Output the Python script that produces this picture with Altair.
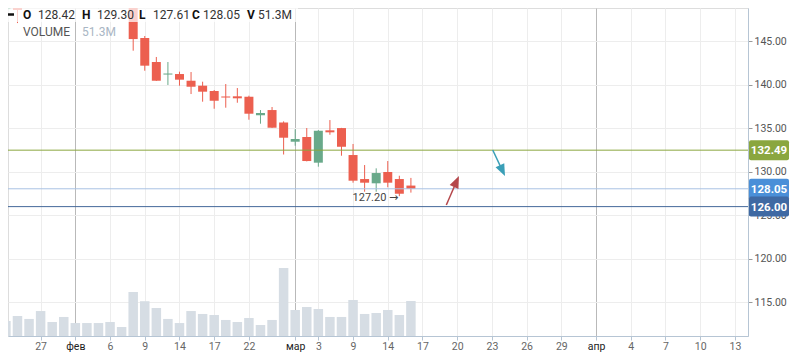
import altair as alt
import pandas as pd

# ---------------- data ----------------
idx = list(range(-3, 33))
opens = [148.7, 151.6, 149.2, 151.0, 152.0, 150.9, 151.4, 150.8, 149.1, 150.5, 151.2, 150.0,
         145.38, 142.62, 141.18, 141.24, 140.47, 139.90, 139.29, 138.66, 138.68, 138.63,
         136.49, 137.10, 135.67, 133.46, 134.00, 131.05, 134.77, 135.03, 131.93, 129.17,
         128.68, 129.98, 129.17, 128.42]
highs = [151.0, 152.0, 151.0, 152.5, 152.4, 151.8, 152.0, 151.2, 150.9, 151.5, 151.6, 150.6,
         145.61, 143.20, 142.62, 141.51, 141.47, 140.36, 139.40, 140.09, 139.63, 138.75,
         137.10, 137.45, 135.80, 134.89, 135.03, 134.80, 135.95, 135.05, 133.20, 130.78,
         130.40, 131.24, 129.55, 129.30]
lows = [148.3, 147.1, 148.9, 150.2, 150.5, 150.0, 150.3, 149.0, 148.8, 149.8, 149.3, 143.92,
        141.62, 140.45, 139.98, 139.90, 138.94, 138.06, 137.25, 137.37, 137.94, 135.99,
        135.53, 135.05, 131.99, 133.00, 131.20, 130.59, 134.26, 131.85, 128.75, 127.71,
        127.71, 128.22, 127.20, 127.61]
closes = [150.6, 148.6, 150.8, 151.8, 150.9, 151.4, 150.6, 149.4, 150.5, 151.2, 149.5, 145.26,
          142.20, 140.47, 141.30, 140.59, 139.78, 139.21, 138.17, 138.54, 138.45, 136.68,
          136.76, 135.07, 133.92, 133.77, 131.24, 134.72, 134.54, 132.88, 128.98, 128.75,
          129.86, 128.75, 127.48, 128.05]
volumes = [22.0, 29.3, 25.0, 36.6, 20.5, 27.9, 19.0, 19.0, 19.0, 20.5, 13.2, 64.5,
           51.0, 41.0, 25.0, 19.0, 36.6, 32.3, 30.8, 23.5, 20.5, 26.4,
           16.1, 23.5, 99.7, 38.1, 42.5, 39.6, 27.9, 27.9, 52.8, 32.3,
           33.7, 38.1, 30.8, 51.3]

tick_idx = [0, 3, 6, 9, 12, 15, 18, 22, 24, 27, 30, 33, 36, 39, 42, 45, 48, 51, 54, 57, 60]
tick_lbl = ["27", "фев", "6", "9", "14", "17", "22", "мар", "3", "9", "14", "17",
            "20", "23", "26", "29", "апр", "4", "7", "10", "13"]
month_idx = [3, 22, 48]

price_ticks = [115, 120, 125, 130, 135, 140, 145]
level_prices = [132.49, 128.05, 126.00]

arrow_ids = ["red", "red", "teal", "teal"]
arrow_x = [35.06, 35.94, 39.07, 39.91]
arrow_p = [126.18, 128.89, 132.51, 130.14]
head_ids = ["red", "teal"]
head_x = [35.94, 39.91]
head_p = [128.89, 130.14]
head_angle = [24, 155]

low_mark_idx = 31
low_mark_price = 127.20

header_last = {"O": "128.42", "H": "129.30", "L": "127.61", "C": "128.05", "V": "51.3M"}

# ---------------- styles ----------------
RED = "#ec5f4f"
GREEN = "#69a98a"
AX = "#b6c5d4"
level_line_colors = ["#8aa63f", "#a9c2e4", "#45699a"]
level_box_colors = ["#8aa63f", "#4a8fd8", "#3f69a3"]
arrow_color = {"red": "#b5474b", "teal": "#3a9fb7"}

# ---------------- tables ----------------
df = pd.DataFrame({"i": idx, "open": opens, "high": highs, "low": lows,
                   "close": closes, "vol": volumes})
df["col"] = [GREEN if c >= o else RED for o, c in zip(opens, closes)]
levels = pd.DataFrame({"price": level_prices,
                       "label": [f"{p:.2f}" for p in level_prices],
                       "lc": level_line_colors, "bc": level_box_colors})
arrows = pd.DataFrame({"a": arrow_ids, "i": arrow_x, "p": arrow_p})
arrows["ac"] = [arrow_color[a] for a in arrow_ids]
heads = pd.DataFrame({"a": head_ids, "i": head_x, "p": head_p, "ang": head_angle})
heads["ac"] = [arrow_color[a] for a in head_ids]
lowmark = pd.DataFrame({"i": [low_mark_idx], "p": [low_mark_price],
                        "t": [f"{low_mark_price:.2f}"], "arr": ["→"]})
one = pd.DataFrame({"k": [0]})

PX_PER_UNIT = 11.73
PX_PER_PRICE = 8.7
PX_PER_MVOL = 0.6823
W, H = 740, 328
X_DOM = [-2.387, -2.387 + W / PX_PER_UNIT]
Y_DOM = [148.83 - H / PX_PER_PRICE, 148.83]
V_DOM = [0, H / PX_PER_MVOL]

label_expr = "[" + ",".join(f"'{t}'" for t in tick_lbl) + "][indexof([" + \
    ",".join(str(v) for v in tick_idx) + "], datum.value)]"
month_test = "indexof([" + ",".join(str(v) for v in month_idx) + "], datum.value) >= 0"

xs = alt.Scale(domain=X_DOM, nice=False, zero=False)
ys = alt.Scale(domain=Y_DOM, nice=False, zero=False)

x_axis = alt.Axis(values=tick_idx, labelExpr=label_expr, title=None, grid=True,
                  gridColor={"condition": {"test": month_test, "value": "#b9b9b9"}, "value": "#ededed"},
                  labelColor={"condition": {"test": month_test, "value": "#222222"}, "value": "#666666"},
                  domainColor=AX, tickColor=AX, tickSize=4, labelPadding=1,
                  labelFontSize=10.5, labelFlush=False)
y_axis = alt.Axis(orient="right", values=price_ticks, format=".2f", title=None, grid=True,
                  gridColor="#ededed", domainColor=AX, tickColor="#9a9a9a", tickSize=4,
                  labelPadding=2, labelColor="#555555", labelFontSize=10.5)

X = alt.X("i:Q", scale=xs, axis=x_axis)

# ---------------- volume ----------------
vol = alt.Chart(df).mark_bar(size=9.5, color="#d6dde4", clip=True).encode(
    x=X,
    y=alt.Y("vol:Q", scale=alt.Scale(domain=V_DOM, nice=False), axis=None),
)

# ---------------- price layers ----------------
base = alt.Chart(df)
wicks = base.mark_rule(strokeWidth=1, clip=True).encode(
    x=X,
    y=alt.Y("low:Q", scale=ys, axis=y_axis),
    y2="high:Q",
    color=alt.Color("col:N", scale=None),
)
bodies = base.mark_bar(size=9, clip=True).encode(
    x=X,
    y=alt.Y("open:Q", scale=ys, axis=y_axis),
    y2="close:Q",
    color=alt.Color("col:N", scale=None),
)
level_lines = alt.Chart(levels).mark_rule(strokeWidth=1).encode(
    y=alt.Y("price:Q", scale=ys, axis=y_axis),
    color=alt.Color("lc:N", scale=None),
)
box_path = ("M-0.9,-0.5H0.9Q1,-0.5 1,-0.4V0.4Q1,0.5 0.9,0.5H-0.9Q-1,0.5 -1,0.4V-0.4"
            "Q-1,-0.5 -0.9,-0.5Z")
level_boxes = alt.Chart(levels).mark_point(shape=box_path, filled=True, opacity=1,
                                           size=1600, strokeWidth=0).encode(
    x=alt.value(W + 21),
    y=alt.Y("price:Q", scale=ys, axis=y_axis),
    fill=alt.Fill("bc:N", scale=None),
)
level_text = alt.Chart(levels).mark_text(color="white", fontWeight="bold", fontSize=11.5,
                                         align="center", baseline="middle", dy=1).encode(
    x=alt.value(W + 21),
    y=alt.Y("price:Q", scale=ys, axis=y_axis),
    text="label:N",
)
arrow_lines = alt.Chart(arrows).mark_line(strokeWidth=1.5).encode(
    x=X,
    y=alt.Y("p:Q", scale=ys, axis=y_axis),
    detail="a:N",
    color=alt.Color("ac:N", scale=None),
)
head_path = "M0,-1L0.8,1L-0.8,1Z"
arrow_heads = alt.Chart(heads).mark_point(shape=head_path, filled=True, opacity=1,
                                          size=144, strokeWidth=0).encode(
    x=X,
    y=alt.Y("p:Q", scale=ys, axis=y_axis),
    angle=alt.Angle("ang:Q", scale=None),
    fill=alt.Fill("ac:N", scale=None),
)
low_text = alt.Chart(lowmark).mark_text(align="right", baseline="middle", dx=-13, dy=2,
                                        fontSize=11, color="#444444").encode(
    x=X,
    y=alt.Y("p:Q", scale=ys, axis=y_axis),
    text="t:N",
)
low_arrow = alt.Chart(lowmark).mark_text(align="right", baseline="middle", dx=-1, dy=2,
                                         fontSize=11, font="DejaVu Sans",
                                         color="#444444").encode(
    x=X,
    y=alt.Y("p:Q", scale=ys, axis=y_axis),
    text="arr:N",
)

# ---------------- header legend ----------------
HY1, HY2 = 6.5, 23.5
overlay = alt.Chart(one).mark_rect(color="white", opacity=0.72).encode(
    x=alt.value(0), x2=alt.value(290), y=alt.value(0), y2=alt.value(14))
dash = alt.Chart(one).mark_rule(color="#111111", strokeWidth=2.5).encode(
    x=alt.value(0), x2=alt.value(6), y=alt.value(HY1))
header_layers = [overlay, dash]
hx = {"O": (15, 30), "H": (74, 89), "L": (131, 145), "C": (184, 195), "V": (239, 250)}
for key, (kx, vx) in hx.items():
    header_layers.append(alt.Chart(one).mark_text(
        text=key, fontWeight="bold", fontSize=12, color="#111111", align="left",
        baseline="middle").encode(x=alt.value(kx), y=alt.value(HY1)))
    header_layers.append(alt.Chart(one).mark_text(
        text=header_last[key], fontSize=12, color="#333333", align="left",
        baseline="middle").encode(x=alt.value(vx), y=alt.value(HY1)))
header_layers.append(alt.Chart(one).mark_text(
    text="VOLUME", fontSize=12, color="#555555", align="left", baseline="middle").encode(
    x=alt.value(15), y=alt.value(HY2)))
header_layers.append(alt.Chart(one).mark_text(
    text=header_last["V"], fontSize=12, color="#a9b6c4", align="left", baseline="middle").encode(
    x=alt.value(74), y=alt.value(HY2)))

price = alt.layer(wicks, bodies, level_lines, arrow_lines, arrow_heads, low_text, low_arrow,
                  *header_layers, level_boxes, level_text)

chart = alt.layer(vol, price).resolve_scale(y="independent").properties(
    width=W, height=H,
    autosize=alt.AutoSizeParams(type="none"),
    padding={"left": 0, "top": 0, "right": 42, "bottom": 19},
).configure_view(stroke=None).configure(font="Roboto")

chart.save("out.html", embed_options={"renderer": "svg", "actions": False})
